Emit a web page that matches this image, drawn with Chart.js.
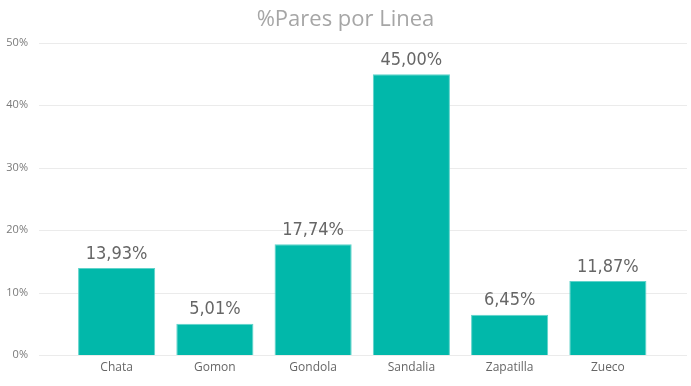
<!DOCTYPE html>
<html lang="es">
<head>
    <meta charset="UTF-8">
    <title>%Pares por Linea</title>
    <script src="https://cdn.jsdelivr.net/npm/chart.js"></script>
    <style>
        html, body {
            margin: 0;
            padding: 0;
            background: #ffffff;
        }
        #wrap {
            width: 691px;
            height: 386px;
        }
    </style>
</head>
<body>
<div id="wrap">
    <canvas id="lineasChart" width="691" height="386"></canvas>
</div>

<script>
    // datos
    const lineas = ['Chata', 'Gomon', 'Gondola', 'Sandalia', 'Zapatilla', 'Zueco'];
    const porcentajes = [13.93, 5.01, 17.74, 45.00, 6.45, 11.87];
    const yTicks = [0, 10, 20, 30, 40, 50];
    const titulo = '%Pares por Linea';

    const fmt = v => v.toFixed(2).replace('.', ',') + '%';

    // grilla y etiquetas del eje Y mas anchas que el area de barras (estilo Power BI)
    const gridFull = {
        id: 'gridFull',
        beforeDatasetsDraw(chart) {
            const y = chart.scales.y;
            const ctx = chart.ctx;
            ctx.save();
            ctx.strokeStyle = '#ebebeb';
            ctx.lineWidth = 1;
            ctx.font = '11px "Open Sans", sans-serif';
            ctx.fillStyle = '#7a7a7a';
            ctx.textAlign = 'right';
            ctx.textBaseline = 'middle';
            yTicks.forEach(t => {
                const py = Math.round(y.getPixelForValue(t)) + 0.5;
                ctx.beginPath();
                ctx.moveTo(39, py);
                ctx.lineTo(687, py);
                ctx.stroke();
                ctx.fillText(t + '%', 28, py - 1);
            });
            ctx.restore();
        }
    };

    // titulo centrado en todo el lienzo
    const tituloCentrado = {
        id: 'tituloCentrado',
        afterDraw(chart) {
            const ctx = chart.ctx;
            ctx.save();
            ctx.font = '22px "Open Sans", sans-serif';
            ctx.fillStyle = '#a6a6a6';
            ctx.textAlign = 'center';
            ctx.textBaseline = 'middle';
            ctx.fillText(titulo, chart.width / 2, 20);
            ctx.restore();
        }
    };

    // etiquetas de valor sobre cada barra
    const valueLabels = {
        id: 'valueLabels',
        afterDatasetsDraw(chart) {
            const ctx = chart.ctx;
            const meta = chart.getDatasetMeta(0);
            ctx.save();
            ctx.font = '18px "DejaVu Sans Condensed", "Liberation Sans Narrow", sans-serif';
            ctx.fillStyle = '#666666';
            ctx.textAlign = 'center';
            ctx.textBaseline = 'bottom';
            meta.data.forEach((bar, i) => {
                ctx.fillText(fmt(porcentajes[i]), bar.x, bar.y - 5);
            });
            ctx.restore();
        }
    };

    const ctx = document.getElementById('lineasChart').getContext('2d');
    new Chart(ctx, {
        type: 'bar',
        data: {
            labels: lineas,
            datasets: [{
                label: '%Pares',
                data: porcentajes,
                backgroundColor: '#01B8AA',
                borderColor: '#5fd3ca',
                borderWidth: 1,
                categoryPercentage: 1,
                barPercentage: 0.785
            }]
        },
        options: {
            responsive: false,
            animation: false,
            layout: {
                autoPadding: false,
                padding: { left: 0, right: 34, top: 43, bottom: 0 }
            },
            plugins: {
                legend: { display: false },
                tooltip: { enabled: false },
                title: { display: false }
            },
            scales: {
                x: {
                    afterFit(scale) { scale.height = 31; },
                    grid: { display: false, drawTicks: false },
                    border: { display: false },
                    ticks: {
                        color: '#666666',
                        font: { family: '"Open Sans", sans-serif', size: 12 },
                        padding: 5
                    }
                },
                y: {
                    min: 0,
                    max: 50,
                    afterFit(scale) { scale.width = 67.5; },
                    grid: { display: false, drawTicks: false },
                    border: { display: false },
                    ticks: { display: false }
                }
            }
        },
        plugins: [gridFull, valueLabels, tituloCentrado]
    });
</script>
</body>
</html>
